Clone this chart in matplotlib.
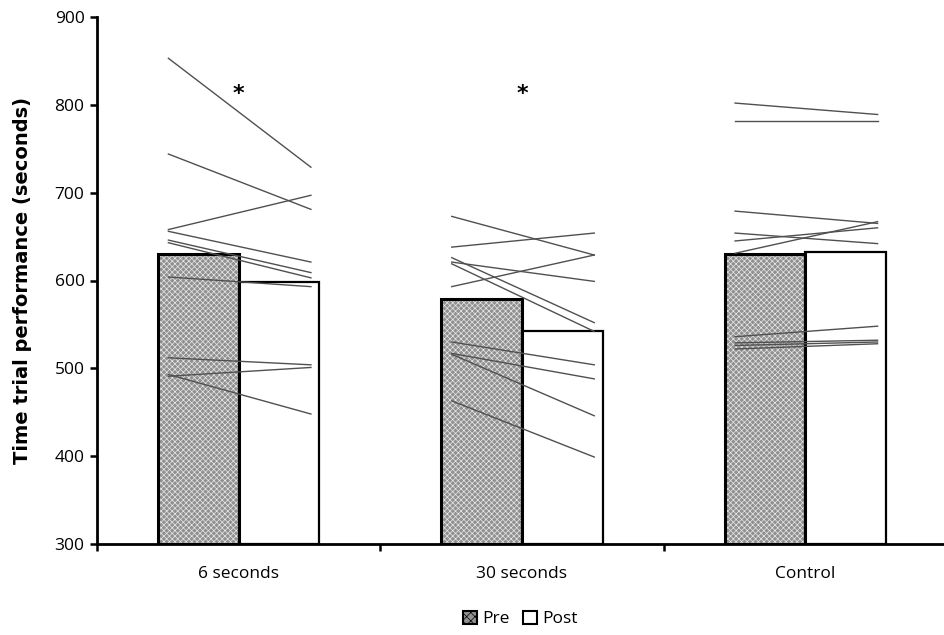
import numpy as np
import matplotlib
matplotlib.use('Agg')
import matplotlib.pyplot as plt
from matplotlib.patches import Patch

plt.rcParams['font.family'] = ['Open Sans', 'DejaVu Sans']
plt.rcParams['hatch.linewidth'] = 0.5

groups = ['6 seconds', '30 seconds', 'Control']
pre_mean = [630, 579, 630]
post_mean = [598, 542, 633]

# individual subjects, pre -> post
pre_6s = [853, 744, 658, 656, 646, 643, 604, 512, 491, 493]
post_6s = [729, 681, 697, 621, 609, 603, 593, 504, 501, 448]
pre_30s = [673, 638, 626, 621, 619, 593, 530, 517, 516, 463]
post_30s = [629, 654, 552, 599, 542, 629, 504, 488, 446, 399]
pre_ctrl = [802, 782, 679, 654, 645, 631, 536, 529, 526, 522]
post_ctrl = [789, 782, 665, 642, 660, 667, 548, 532, 530, 528]

stars = ['*', '*', '']
star_y = 812

fig = plt.figure(figsize=(9.44, 6.35), dpi=100)
ax = fig.add_axes([97 / 944, 91 / 635, 850 / 944, 527 / 635])

x = np.arange(len(groups))
w = 0.285

# pre bars: textured grey
ax.bar(x - w / 2, [m - 300 for m in pre_mean], w, bottom=300, color='#909090',
       edgecolor='#e8e8e8', hatch='xxxxxx', linewidth=0, zorder=2)
ax.bar(x - w / 2, [m - 300 for m in pre_mean], w, bottom=300, fill=False,
       edgecolor='black', linewidth=2.2, zorder=3)
ax.bar(x + w / 2, [m - 300 for m in post_mean], w, bottom=300, color='white',
       edgecolor='black', linewidth=1.6, zorder=2)

subjects = [(pre_6s, post_6s), (pre_30s, post_30s), (pre_ctrl, post_ctrl)]
for i, (pre, post) in enumerate(subjects):
    for a, b in zip(pre, post):
        ax.plot([i - 0.248, i + 0.255], [a, b], color='#505050', lw=1.0, zorder=4)
    if stars[i]:
        ax.text(i, star_y, stars[i], ha='center', va='center', fontsize=16,
                fontweight='bold', family='DejaVu Sans', zorder=5)

ax.set_xlim(-0.5, 2.5)
ax.set_ylim(300, 900)
ax.set_yticks(range(300, 901, 100))
ax.set_xticks([-0.5, 0.5, 1.5])
ax.set_xticklabels([])
ax.set_xticks(x, minor=True)
ax.set_xticklabels(groups, minor=True, fontsize=12.5)
ax.tick_params(axis='x', which='minor', length=0, pad=16)
ax.tick_params(axis='x', which='major', length=5, width=1.8, direction='out')
ax.tick_params(axis='y', length=5, width=1.8, direction='out', labelsize=12.5, pad=4)

for s in ['top', 'right']:
    ax.spines[s].set_visible(False)
for s in ['left', 'bottom']:
    ax.spines[s].set_linewidth(2)

ax.set_ylabel('Time trial performance (seconds)', fontsize=14, fontweight='bold',
              family='DejaVu Sans', labelpad=16)

handles = [Patch(facecolor='#909090', edgecolor='black', hatch='xxxx', linewidth=1.5),
           Patch(facecolor='white', edgecolor='black', linewidth=1.5)]
fig.legend(handles, ['Pre', 'Post'], loc='center', bbox_to_anchor=(0.551, 0.025),
           ncol=2, frameon=False, fontsize=12.5, handlelength=0.8, handleheight=0.8,
           handletextpad=0.3, columnspacing=0.8)

fig.savefig('out.png', dpi=100)
